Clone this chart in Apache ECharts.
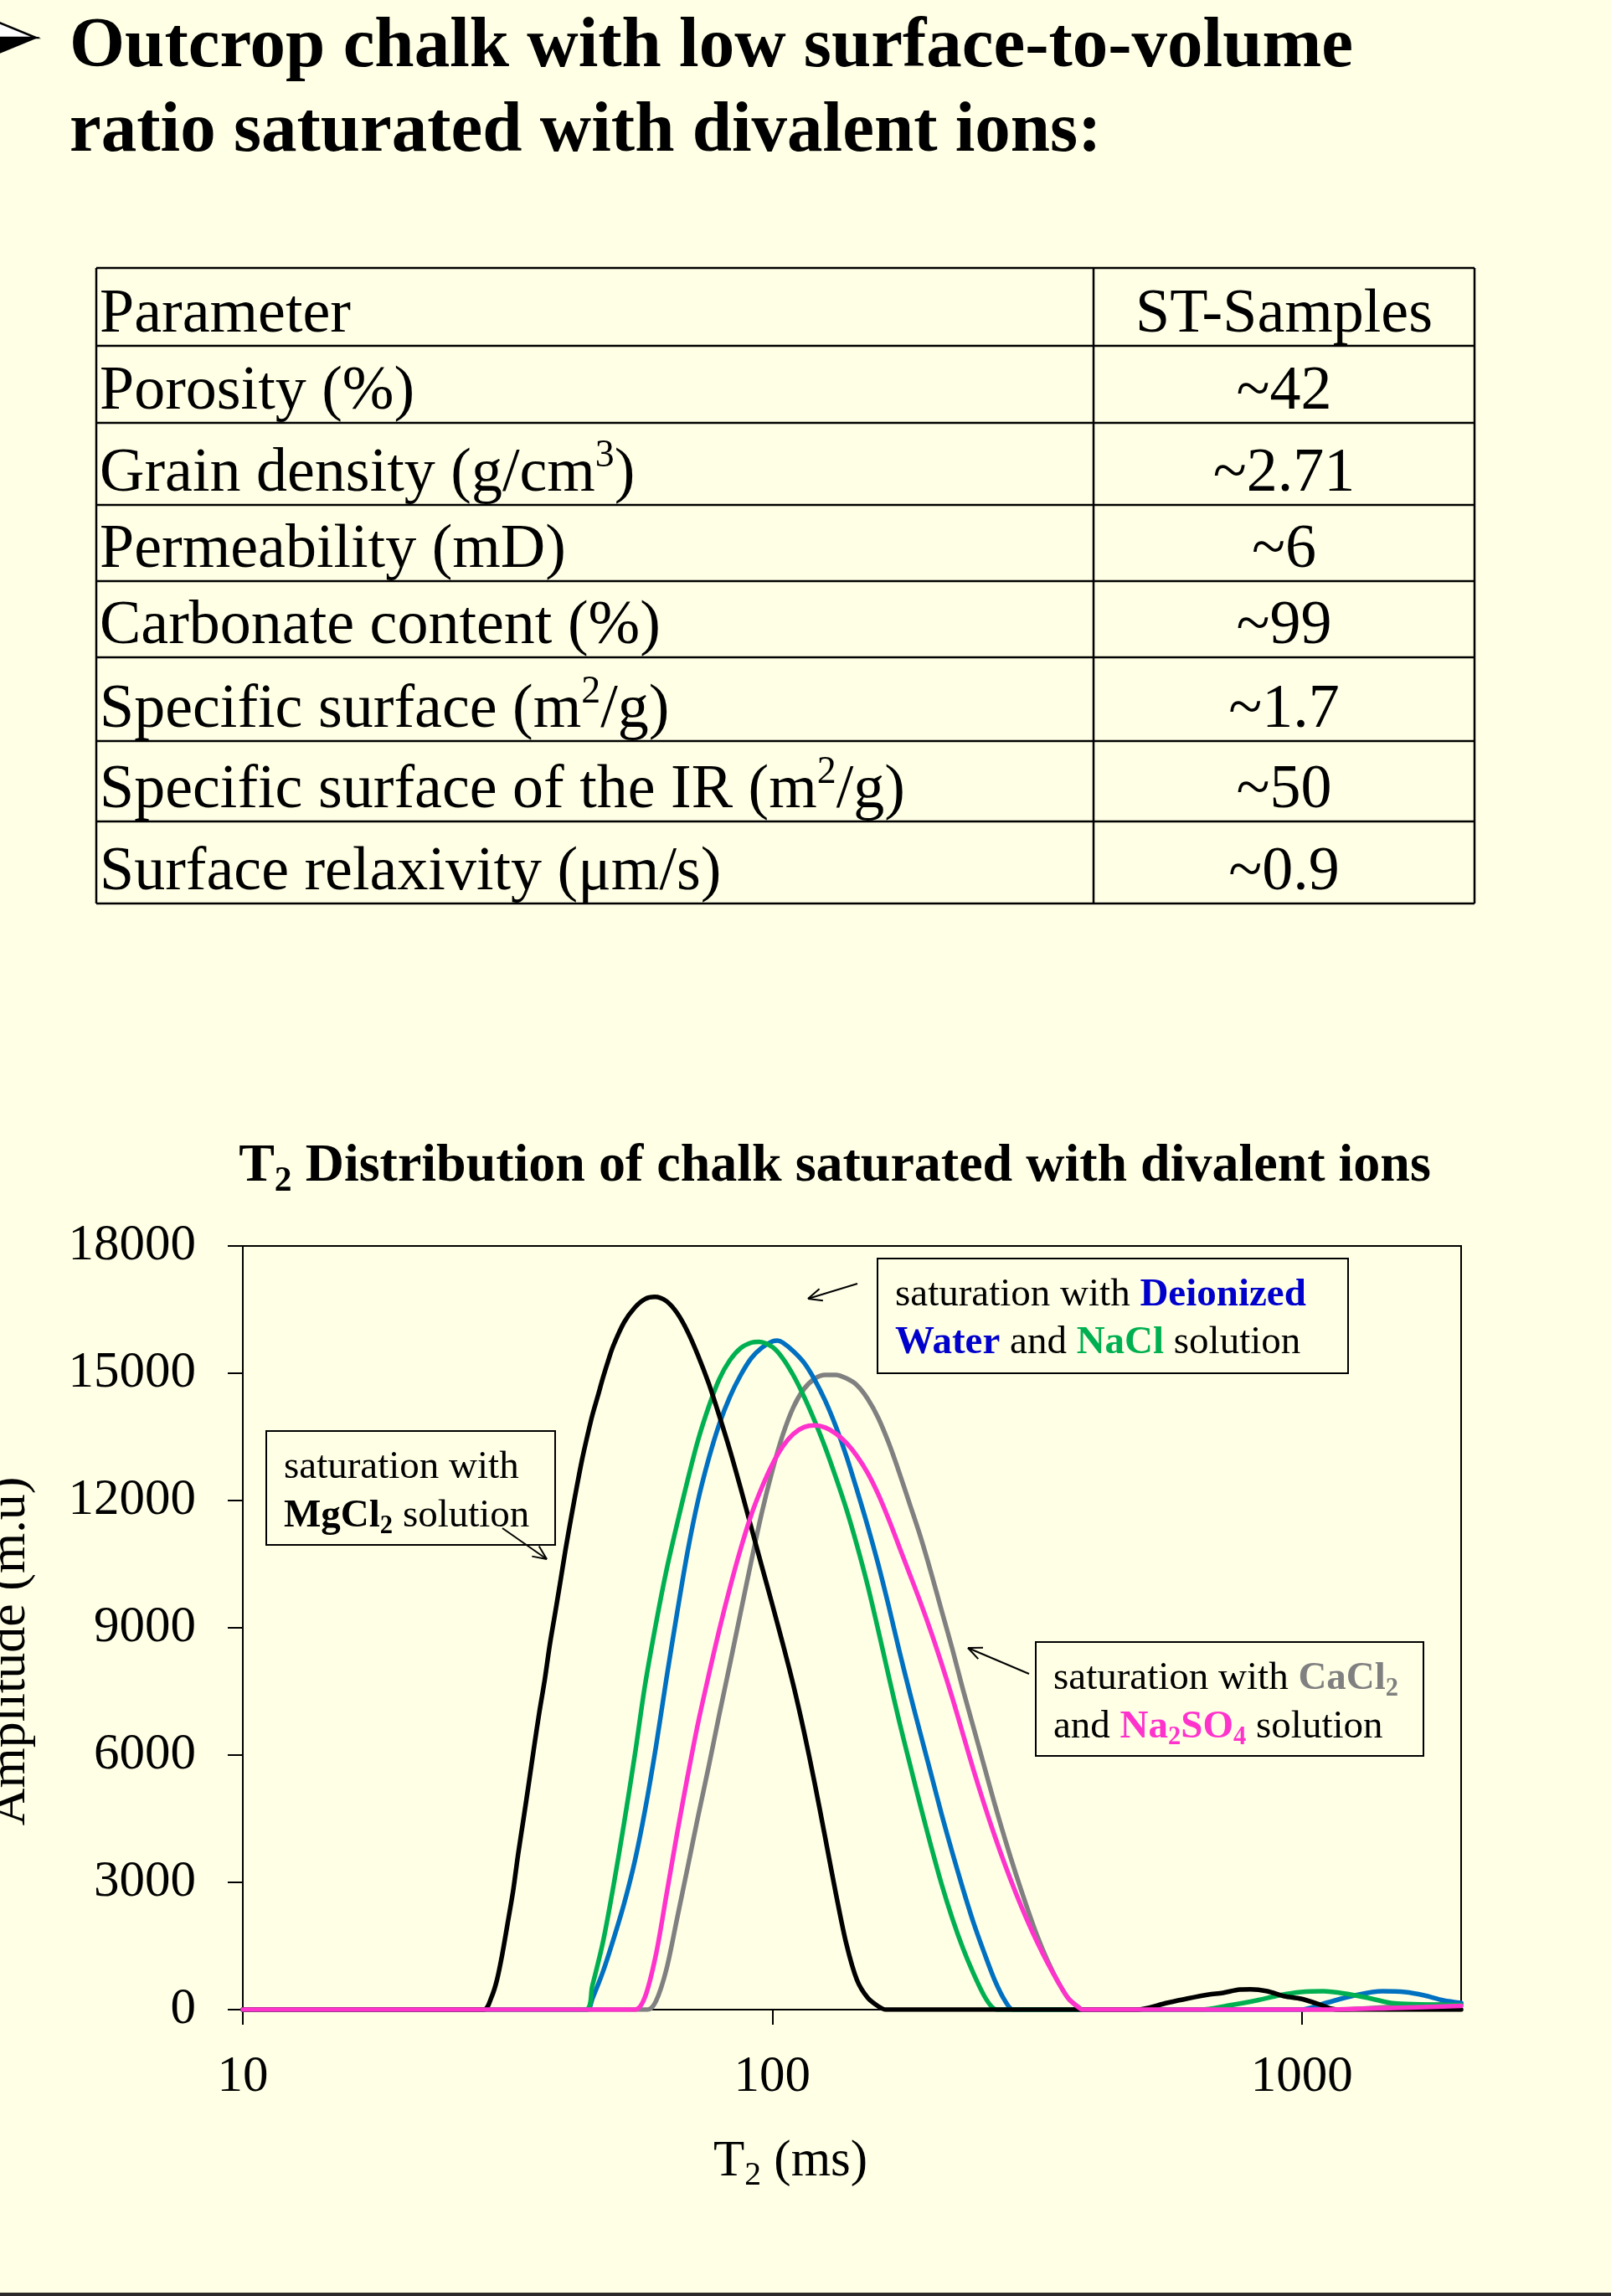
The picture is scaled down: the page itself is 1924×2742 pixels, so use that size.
<!DOCTYPE html>
<html>
<head>
<meta charset="utf-8">
<script src="https://cdn.jsdelivr.net/npm/echarts@6.0.0/dist/echarts.min.js"></script>
<style>
  html, body { margin: 0; padding: 0; background: #ffffe6; }
  #main { width: 1924px; height: 2742px; }
</style>
</head>
<body>
<div id="main"></div>
<script>
// ---- data ----
var t2Ticks = [10, 100, 1000];

// ^n marks a superscript digit
var tableHeader = ['Parameter', 'ST-Samples'];
var tableParams = ['Porosity (%)', 'Grain density (g/cm^3)', 'Permeability (mD)', 'Carbonate content (%)',
  'Specific surface (m^2/g)', 'Specific surface of the IR (m^2/g)', 'Surface relaxivity (\u03bcm/s)'];
var tableValues = ['~42', '~2.71', '~6', '~99', '~1.7', '~50', '~0.9'];

// T2 distributions, [T2 (ms), amplitude (m.u)]
var mgcl2 = [[10,0],[28.5,0],[29.5,300],[30.2,700],[30.9,1300],[31.6,2000],[32.4,2800],[33.1,3650],[33.9,4500],
  [34.7,5350],[35.5,6200],[36.3,7000],[37.2,7800],[38.0,8600],[38.9,9350],[39.8,10100],[40.7,10850],[41.7,11600],
  [42.7,12300],[43.7,12950],[44.7,13500],[45.7,14000],[46.8,14450],[47.9,14900],[49.0,15300],[50.1,15650],
  [52.5,16200],[55.0,16550],[57.5,16750],[60.0,16800],[63.1,16700],[66.1,16420],[69.2,15980],[72.4,15420],
  [75.9,14750],[79.4,14000],[83.2,13180],[87.1,12300],[91.2,11380],[95.5,10460],[100,9550],[104.7,8620],
  [109.6,7650],[114.8,6550],[120.2,5350],[125.9,4050],[131.8,2750],[138.0,1550],[144.5,700],[151.4,280],
  [158.5,80],[164,0],[488,0],[556,158],[606,257],[667,355],[710,395],[764,474],[800,480],[861,434],[927,316],
  [996,257],[1072,138],[1140,20],[1180,0],[2000,0]];
var nacl = [[10,0],[44.4,0],[45.7,550],[47.9,1600],[50.1,2900],[52.5,4400],[55.0,6000],[57.5,7650],[60.3,9100],
  [63.1,10350],[66.1,11450],[69.2,12480],[72.4,13420],[75.9,14220],[79.4,14860],[83.2,15310],[87.1,15590],
  [91.2,15720],[94.4,15740],[100,15620],[104.7,15350],[109.6,14950],[114.8,14450],[120.2,13880],[125.9,13250],
  [131.8,12550],[138.0,11800],[144.5,10950],[151.4,10000],[158.5,8950],[166.0,7850],[173.8,6780],[182.0,5780],
  [190.5,4800],[199.5,3850],[208.9,2950],[218.8,2150],[229.1,1450],[239.9,850],[251.2,330],[260,60],[266,0],
  [644,0],[728,99],[822,217],[906,335],[996,414],[1099,434],[1213,375],[1334,276],[1472,158],[1543,138],
  [1750,120],[2000,110]];
var water = [[10,0],[44.7,0],[45.7,250],[47.9,900],[50.1,1650],[52.5,2500],[55.0,3500],[57.5,4700],[60.3,6200],
  [63.1,7800],[66.1,9350],[69.2,10800],[72.4,12000],[75.9,13000],[79.4,13800],[83.2,14450],[87.1,14950],
  [91.2,15350],[95.5,15600],[100,15750],[102.3,15770],[104.7,15720],[109.6,15520],[114.8,15250],[120.2,14850],
  [125.9,14350],[131.8,13750],[138.0,13050],[144.5,12250],[151.4,11400],[158.5,10500],[166.0,9500],[173.8,8450],
  [182.0,7450],[190.5,6500],[199.5,5550],[208.9,4600],[218.8,3700],[229.1,2850],[239.9,2050],[251.2,1350],
  [263.0,700],[275.4,200],[285,0],[996,0],[1111,158],[1259,335],[1419,434],[1567,414],[1704,335],[1852,217],
  [2000,158]];
var cacl2 = [[10,0],[58.1,0],[60.3,200],[63.1,950],[66.1,2150],[69.2,3350],[72.4,4550],[75.9,5750],[79.4,6950],
  [83.2,8150],[87.1,9350],[91.2,10550],[95.5,11700],[100,12700],[104.7,13550],[109.6,14200],[114.8,14630],
  [120.2,14870],[125.9,14960],[131.8,14960],[138.0,14880],[144.5,14720],[151.4,14400],[158.5,13950],[166.0,13350],
  [173.8,12650],[182.0,11900],[190.5,11150],[199.5,10300],[208.9,9400],[218.8,8500],[229.1,7550],[239.9,6650],
  [251.2,5750],[263.0,4850],[275.4,4000],[288.4,3200],[302.0,2450],[316.2,1750],[331.1,1150],[346.7,650],
  [363.1,250],[380.2,40],[385,0],[1150,0],[1500,70],[2000,150]];
var na2so4 = [[10,0],[55.1,0],[57.5,300],[60.3,1300],[63.1,2700],[66.1,4150],[69.2,5500],[72.4,6750],[75.9,7900],
  [79.4,8950],[83.2,9950],[87.1,10850],[91.2,11650],[95.5,12300],[100,12850],[104.7,13280],[109.6,13570],
  [114.8,13730],[120.2,13770],[125.9,13720],[131.8,13580],[138.0,13360],[144.5,13050],[151.4,12650],[158.5,12150],
  [166.0,11550],[173.8,10900],[182.0,10250],[190.5,9600],[199.5,8900],[208.9,8150],[218.8,7350],[229.1,6500],
  [239.9,5650],[251.2,4850],[263.0,4100],[275.4,3400],[288.4,2750],[302.0,2150],[316.2,1600],[331.1,1100],
  [346.7,650],[363.1,250],[380.2,40],[385,0],[1100,0],[1500,40],[2000,90]];

// ---- layout ----
var FONT = '"Liberation Serif", "Times New Roman", serif';
var BG = '#ffffe6';
var MID = 0.26; // baseline offset below the 'middle' anchor, in em
var graphics = [];

function tok(F, opts) {
  return Object.assign({ fontFamily: FONT, fontSize: F, lineHeight: 1.2 * F, verticalAlign: 'middle', fill: '#000' }, opts || {});
}
// subscript: r = size ratio, s = drop below baseline (em)
function subTok(F, r, s, opts) {
  var ls = 1.2 * F - 2 * (s + 0.3375 - 0.3375 * r) * F;
  return Object.assign({ fontFamily: FONT, fontSize: r * F, lineHeight: ls, verticalAlign: 'bottom', fill: '#000' }, opts || {});
}
// superscript: h = rise above baseline (em)
function supTok(F, r, h, opts) {
  var ls = 1.2 * F - 2 * (h - 0.3375 + 0.3375 * r) * F;
  return Object.assign({ fontFamily: FONT, fontSize: r * F, lineHeight: ls, verticalAlign: 'top', fill: '#000' }, opts || {});
}
function addText(x, baseline, text, F, style, extra) {
  var el = { type: 'text', x: x, y: baseline - MID * F, silent: true,
    style: Object.assign({ text: text, fontFamily: FONT, fontSize: F, fill: '#000', align: 'left', verticalAlign: 'middle' }, style || {}) };
  Object.assign(el, extra || {});
  graphics.push(el);
}
function addRich(x, baseline, text, F, rich, align) {
  graphics.push({ type: 'text', x: x, y: baseline - MID * F, silent: true, z: 110,
    style: { text: text, align: align || 'left', verticalAlign: 'middle', rich: rich } });
}
function addLine(x1, y1, x2, y2, w) {
  graphics.push({ type: 'line', silent: true, shape: { x1: x1, y1: y1, x2: x2, y2: y2 }, style: { stroke: '#000', lineWidth: w || 2 } });
}
function addArrow(x1, y1, x2, y2) {
  addLine(x1, y1, x2, y2, 2);
  var ang = Math.atan2(y2 - y1, x2 - x1), L = 18, a = 0.42;
  [ang + Math.PI - a, ang + Math.PI + a].forEach(function (t) {
    addLine(x2, y2, x2 + L * Math.cos(t), y2 + L * Math.sin(t), 2);
  });
}
function addBox(x, y, w, h) {
  graphics.push({ type: 'rect', silent: true, shape: { x: x, y: y, width: w, height: h }, style: { fill: BG, stroke: '#000', lineWidth: 2 } });
}

// bullet (3-D arrowhead, clipped by the page edge) + heading
graphics.push({ type: 'polygon', silent: true, shape: { points: [[-30, 15], [43, 45], [-6, 45]] },
  style: { fill: '#fff', stroke: '#000', lineWidth: 2.5 } });
graphics.push({ type: 'polygon', silent: true, shape: { points: [[-6, 45], [43, 45], [-30, 75]] },
  style: { fill: '#000', stroke: '#000', lineWidth: 2 } });
addText(83, 79, 'Outcrop chalk with low surface-to-volume', 85, { fontWeight: 'bold' });
addText(83, 180, 'ratio saturated with divalent ions:', 85, { fontWeight: 'bold' });

// table
var rowLines = [320, 413, 505, 603, 694, 785, 885, 981, 1079];
var tLeft = 115, tRight = 1761, tSplit = 1306, TF = 74;
rowLines.forEach(function (y) { addLine(tLeft, y, tRight, y, 2.5); });
[tLeft, tSplit, tRight].forEach(function (x) { addLine(x, rowLines[0], x, rowLines[rowLines.length - 1], 2.5); });
var tableRich = { n: tok(TF), p: supTok(TF, 0.62, 0.36) };
function cellText(s) {
  return s.split(/\^(\d)/).map(function (part, i) { return i % 2 ? '{p|' + part + '}' : (part ? '{n|' + part + '}' : ''); }).join('');
}
var rowsL = [tableHeader[0]].concat(tableParams), rowsR = [tableHeader[1]].concat(tableValues);
rowsL.forEach(function (s, i) {
  var base = rowLines[i + 1] - 17;
  addRich(119, base, cellText(s), TF, tableRich);
  addRich((tSplit + tRight) / 2, base, cellText(rowsR[i]), TF, tableRich, 'center');
});

// chart title
var CT = 64;
addRich(997, 1410, '{b|T}{s|2}{b| Distribution of chalk saturated with divalent ions}', CT,
  { b: tok(CT, { fontWeight: 'bold' }), s: subTok(CT, 0.65, 0.22, { fontWeight: 'bold' }) }, 'center');

// axis names
addRich(852, 2598, '{n|T}{s|2}{n| (ms)}', 61, { n: tok(61), s: subTok(61, 0.65, 0.22) });
addText(0, 0, 'Amplitude (m.u)', 62, { align: 'center', verticalAlign: 'middle' }, { x: 13, y: 1972, rotation: Math.PI / 2 });

// annotations
var AF = 47;
var blue = '#0000cc', green = '#00b050', gray = '#808080', pink = '#ff33cc';
var annRich = {
  n: tok(AF), b: tok(AF, { fontWeight: 'bold' }),
  sb: subTok(AF, 0.65, 0.2, { fontWeight: 'bold' }),
  bl: tok(AF, { fontWeight: 'bold', fill: blue }), gr: tok(AF, { fontWeight: 'bold', fill: green }),
  gy: tok(AF, { fontWeight: 'bold', fill: gray }), gys: subTok(AF, 0.65, 0.2, { fontWeight: 'bold', fill: gray }),
  pk: tok(AF, { fontWeight: 'bold', fill: pink }), pks: subTok(AF, 0.65, 0.2, { fontWeight: 'bold', fill: pink })
};
addBox(318, 1709, 345, 136);
addRich(339, 1765, '{n|saturation with}', AF, annRich);
addRich(339, 1823, '{b|MgCl}{sb|2}{n| solution}', AF, annRich);
addArrow(600, 1825, 653, 1862);

addBox(1048, 1503, 562, 137);
addRich(1069, 1559, '{n|saturation with }{bl|Deionized}', AF, annRich);
addRich(1069, 1616, '{bl|Water}{n| and }{gr|NaCl}{n| solution}', AF, annRich);
addArrow(1024, 1533, 965, 1551);

addBox(1237, 1961, 463, 136);
addRich(1258, 2017, '{n|saturation with }{gy|CaCl}{gys|2}', AF, annRich);
addRich(1258, 2075, '{n|and }{pk|Na}{pks|2}{pk|SO}{pks|4}{n| solution}', AF, annRich);
addArrow(1229, 1999, 1156, 1968);

// bottom rule
graphics.push({ type: 'rect', silent: true, shape: { x: 0, y: 2738, width: 1924, height: 4 }, style: { fill: '#2a2a2a' } });

function curve(name, data, color) {
  return { name: name, type: 'line', data: data, showSymbol: false, smooth: 0.3, clip: true,
    lineStyle: { color: color, width: 5.5, cap: 'round', join: 'round' }, itemStyle: { color: color } };
}

var chart = echarts.init(document.getElementById('main'));
chart.setOption({
  backgroundColor: BG,
  animation: false,
  grid: { left: 290, top: 1488, width: 1455, height: 912, show: true, borderColor: '#000', borderWidth: 2, backgroundColor: 'transparent' },
  xAxis: {
    type: 'log', logBase: 10, min: 10, max: 2000,
    axisLine: { show: true, onZero: false, lineStyle: { color: '#000', width: 2 } },
    axisTick: { show: true, length: 18, customValues: t2Ticks, lineStyle: { color: '#000', width: 2 } },
    axisLabel: { customValues: t2Ticks, fontFamily: FONT, fontSize: 61, color: '#000', margin: 50,
      formatter: function (v) { return String(Math.round(v)); } },
    splitLine: { show: false }, minorTick: { show: false }
  },
  yAxis: {
    type: 'value', min: 0, max: 18000, interval: 3000,
    axisLine: { show: true, lineStyle: { color: '#000', width: 2 } },
    axisTick: { show: true, length: 18, lineStyle: { color: '#000', width: 2 } },
    axisLabel: { fontFamily: FONT, fontSize: 61, color: '#000', margin: 56,
      formatter: function (v) { return String(v); } },
    splitLine: { show: false }
  },
  series: [
    curve('CaCl2', cacl2, gray),
    curve('Deionized Water', water, '#0070c0'),
    curve('NaCl', nacl, '#00b050'),
    curve('MgCl2', mgcl2, '#000000'),
    curve('Na2SO4', na2so4, pink)
  ],
  graphic: graphics
});
</script>
</body>
</html>
